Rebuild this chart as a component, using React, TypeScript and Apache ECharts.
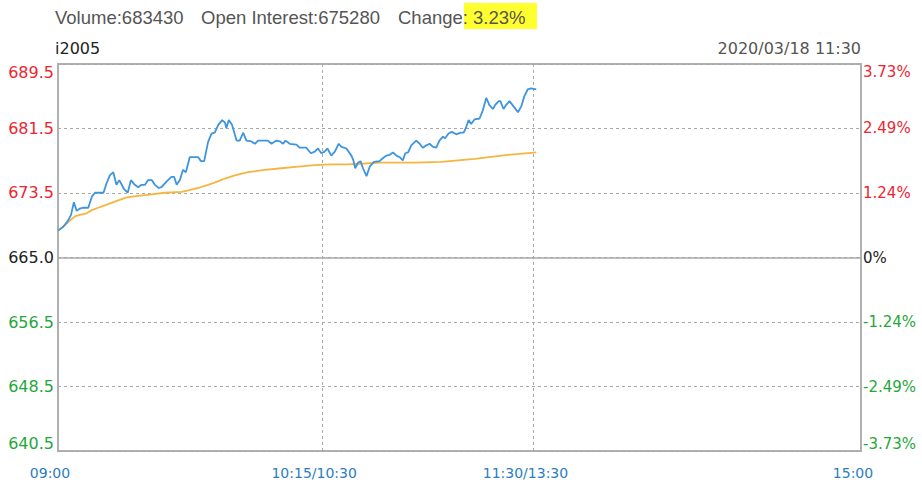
import React, { useEffect, useRef } from "react";
import * as echarts from "echarts";

// ---- data ----
const priceMinutes = [0, 1.5, 2.9, 3.7, 4.5, 5.3, 6.2, 7.2, 8.6, 9.6, 10.5, 12.9, 13.8, 14.7, 15.7, 16.6, 17.4, 18.7, 19.8, 20.7, 21.8, 22.8, 23.7, 24.7, 25.6, 26.6, 27.5, 28.6, 29.4, 30.8, 32.2, 33.0, 33.7, 34.6, 35.5, 36.3, 37.4, 39.8, 40.6, 41.5, 42.6, 43.6, 44.5, 45.5, 46.6, 47.4, 47.8, 48.5, 49.4, 50.7, 51.6, 52.6, 53.5, 54.9, 55.9, 56.8, 59.6, 60.6, 62.0, 63.0, 63.9, 64.6, 65.8, 67.7, 68.6, 70.5, 71.8, 72.9, 73.8, 74.8, 75.7, 76.5, 77.6, 78.6, 79.7, 80.5, 81.9, 83.3, 83.8, 84.4, 85.2, 85.9, 86.6, 87.6, 88.5, 89.7, 91.3, 92.3, 93.2, 94.2, 95.1, 96.1, 97.0, 97.9, 98.6, 99.4, 100.3, 101.7, 102.7, 103.6, 104.6, 105.5, 106.5, 107.4, 108.3, 109.3, 109.9, 110.9, 111.8, 113.1, 114.3, 115.2, 115.9, 116.6, 117.3, 118.3, 119.7, 120.6, 121.6, 122.5, 123.5, 124.1, 125.1, 125.6, 126.5, 127.2, 128.2, 129.4, 130.6, 131.5, 132.4, 133.4, 134.3, 135.8];
const priceValues = [668.4, 668.9, 669.7, 670.4, 672.0, 670.9, 671.2, 671.3, 671.3, 672.7, 673.2, 673.2, 674.4, 675.4, 675.8, 674.2, 674.8, 673.7, 673.2, 674.8, 674.2, 673.9, 674.2, 674.2, 674.8, 674.8, 674.2, 673.8, 673.9, 674.6, 675.2, 675.2, 674.2, 674.8, 676.1, 675.8, 677.7, 677.7, 677.2, 677.2, 679.6, 680.7, 680.8, 681.8, 682.4, 682.1, 681.4, 682.4, 681.8, 679.8, 679.8, 680.8, 679.8, 679.7, 679.4, 679.8, 679.8, 679.4, 679.8, 679.7, 679.4, 679.8, 679.4, 679.3, 678.9, 678.9, 678.2, 678.4, 678.8, 678.2, 678.4, 678.8, 677.9, 678.4, 679.4, 679.0, 678.8, 677.9, 677.4, 676.3, 677.0, 677.2, 676.3, 675.3, 676.5, 677.1, 677.2, 677.6, 677.9, 678.0, 678.3, 677.9, 677.7, 677.3, 678.2, 678.3, 679.2, 679.8, 679.4, 678.9, 679.2, 679.4, 679.0, 678.9, 679.8, 680.3, 680.1, 680.7, 680.9, 680.6, 680.8, 680.8, 681.5, 682.4, 681.9, 682.5, 682.6, 683.6, 685.2, 684.3, 683.8, 684.3, 684.8, 684.8, 683.8, 684.3, 684.8, 684.1, 683.4, 684.1, 685.4, 686.3, 686.4, 686.3];

const avgMinutes = [0, 2.0, 3.4, 4.8, 6.2, 8.1, 9.6, 11.4, 13.3, 15.7, 18.1, 19.5, 22.8, 26.6, 30.3, 35.1, 37.0, 39.8, 42.6, 45.2, 47.4, 50.2, 54.0, 58.7, 63.4, 68.2, 72.9, 77.6, 82.3, 87.1, 91.3, 101.2, 108.8, 118.3, 127.7, 135.8];
const avgValues = [668.4, 669.1, 669.7, 670.2, 670.4, 670.6, 671.0, 671.3, 671.6, 672.0, 672.4, 672.6, 672.8, 673.0, 673.2, 673.3, 673.5, 673.8, 674.2, 674.6, 675.0, 675.4, 675.8, 676.1, 676.3, 676.5, 676.7, 676.8, 676.8, 676.9, 677.0, 677.0, 677.1, 677.5, 678.0, 678.3];

const xTickMinutes = [0, 75, 135, 228];
const xTickLabels = ["09:00", "10:15/10:30", "11:30/13:30", "15:00"];
const xSessionBreaks = [75, 135];

const prevClose = 665;
const leftTickValues = [640.5, 648.6667, 656.8333, 665, 673.1667, 681.3333, 689.5];
const leftTickLabels = ["640.5", "648.5", "656.5", "665.0", "673.5", "681.5", "689.5"];
const rightTickValues = [-3.73, -2.49, -1.24, 0, 1.24, 2.49, 3.73];
const rightTickLabels = ["-3.73%", "-2.49%", "-1.24%", "0%", "1.24%", "2.49%", "3.73%"];

const volumeText = "Volume:683430";
const openInterestText = "Open Interest:675280";
const changeLabel = "Change:";
const changeValue = "3.23%";
const contractCode = "i2005";
const timestampText = "2020/03/18 11:30";

const RED = "#ee2530";
const GREEN = "#1fa83a";
const DARK = "#222222";
const BLUE_LABEL = "#2b7dbf";
const GRID = "#a8a8a8";

function pickLabel(values: number[], labels: string[], v: number) {
  for (let i = 0; i < values.length; i++) {
    if (Math.abs(values[i] - v) < 0.01) return labels[i];
  }
  return "";
}

export default function App() {
  const ref = useRef<HTMLDivElement>(null);
  useEffect(() => {
    if (!ref.current) return;
    const chart = echarts.init(ref.current, undefined, { renderer: "svg" });
    const pricePairs = priceMinutes.map((m, i) => [m, priceValues[i]]);
    const avgPairs = avgMinutes.map((m, i) => [m, avgValues[i]]);
    const font = "DejaVu Sans";
    chart.setOption({
      animation: false,
      backgroundColor: "#ffffff",
      grid: {
        left: 58,
        right: 61,
        top: 64,
        bottom: 33,
        show: true,
        borderColor: "#b0b0b0",
        borderWidth: 2,
        containLabel: false,
      },
      xAxis: {
        type: "value",
        min: 0,
        max: 228,
        axisLine: { show: false },
        axisTick: { show: false, customValues: xSessionBreaks },
        splitLine: { show: true, lineStyle: { color: GRID, type: [3, 3], width: 1 } },
        axisLabel: {
          customValues: xTickMinutes,
          formatter: (v: number) => pickLabel(xTickMinutes, xTickLabels, v),
          color: BLUE_LABEL,
          fontFamily: font,
          fontSize: 14,
          margin: 15,
          padding: [0, 16, 0, 0],
        },
      },
      yAxis: [
        {
          type: "value",
          min: 640.5,
          max: 689.5,
          axisLine: { show: false },
          axisTick: { show: false, customValues: leftTickValues },
          splitLine: { show: true, lineStyle: { color: GRID, type: [3, 3], width: 1 } },
          axisLabel: {
            customValues: leftTickValues,
            formatter: (v: number) => pickLabel(leftTickValues, leftTickLabels, v),
            color: (v: any) => {
              const n = Number(v);
              return n > prevClose + 0.01 ? RED : n < prevClose - 0.01 ? GREEN : DARK;
            },
            fontFamily: font,
            fontSize: 16,
            margin: 4,
            verticalAlignMinLabel: "bottom",
            verticalAlignMaxLabel: "top",
          },
        },
        {
          type: "value",
          position: "right",
          min: -3.73,
          max: 3.73,
          axisLine: { show: false },
          axisTick: { show: false, customValues: rightTickValues },
          splitLine: { show: false },
          axisLabel: {
            customValues: rightTickValues,
            formatter: (v: number) => pickLabel(rightTickValues, rightTickLabels, v),
            color: (v: any) => {
              const n = Number(v);
              return n > 0.001 ? RED : n < -0.001 ? GREEN : DARK;
            },
            fontFamily: font,
            fontSize: 15,
            margin: 2,
            verticalAlignMinLabel: "bottom",
            verticalAlignMaxLabel: "top",
          },
        },
      ],
      series: [
        {
          name: "avg",
          type: "line",
          yAxisIndex: 0,
          data: avgPairs,
          showSymbol: false,
          symbol: "none",
          lineStyle: { color: "#f5b53f", width: 1.8 },
          z: 2,
        },
        {
          name: "price",
          type: "line",
          yAxisIndex: 0,
          data: pricePairs,
          showSymbol: false,
          symbol: "none",
          lineStyle: { color: "#3e95de", width: 1.8 },
          z: 3,
          markLine: {
            silent: true,
            symbol: "none",
            label: { show: false },
            lineStyle: { color: "#a8a8a8", type: "solid", width: 1.5 },
            data: [{ yAxis: prevClose }],
          },
        },
      ],
      graphic: [
        {
          type: "rect",
          shape: { x: 464, y: 3, width: 73, height: 26 },
          style: { fill: "#ffff30" },
          z: 1,
        },
        {
          type: "text",
          x: 55,
          y: 17,
          style: { text: volumeText, fontFamily: "Liberation Sans", fontSize: 18.5, fill: "#555555", verticalAlign: "middle" },
          z: 2,
        },
        {
          type: "text",
          x: 201,
          y: 17,
          style: { text: openInterestText, fontFamily: "Liberation Sans", fontSize: 18.5, fill: "#555555", verticalAlign: "middle" },
          z: 2,
        },
        {
          type: "text",
          x: 398,
          y: 17,
          style: { text: changeLabel, fontFamily: "Liberation Sans", fontSize: 18.5, fill: "#555555", verticalAlign: "middle" },
          z: 2,
        },
        {
          type: "text",
          x: 473,
          y: 17,
          style: { text: changeValue, fontFamily: "Liberation Sans", fontSize: 18.5, fill: "#555555", verticalAlign: "middle" },
          z: 2,
        },
        {
          type: "text",
          x: 55,
          y: 48,
          style: { text: contractCode, fontFamily: font, fontSize: 16, fill: "#222222", verticalAlign: "middle" },
          z: 2,
        },
        {
          type: "text",
          x: 861,
          y: 48,
          style: { text: timestampText, fontFamily: font, fontSize: 16, fill: "#555555", verticalAlign: "middle", align: "right" },
          z: 2,
        },
      ],
    });
    return () => chart.dispose();
  }, []);
  return (
    <div
      ref={ref}
      style={{ position: "fixed", left: 0, top: 0, width: 922, height: 484, background: "#fff" }}
    />
  );
}
